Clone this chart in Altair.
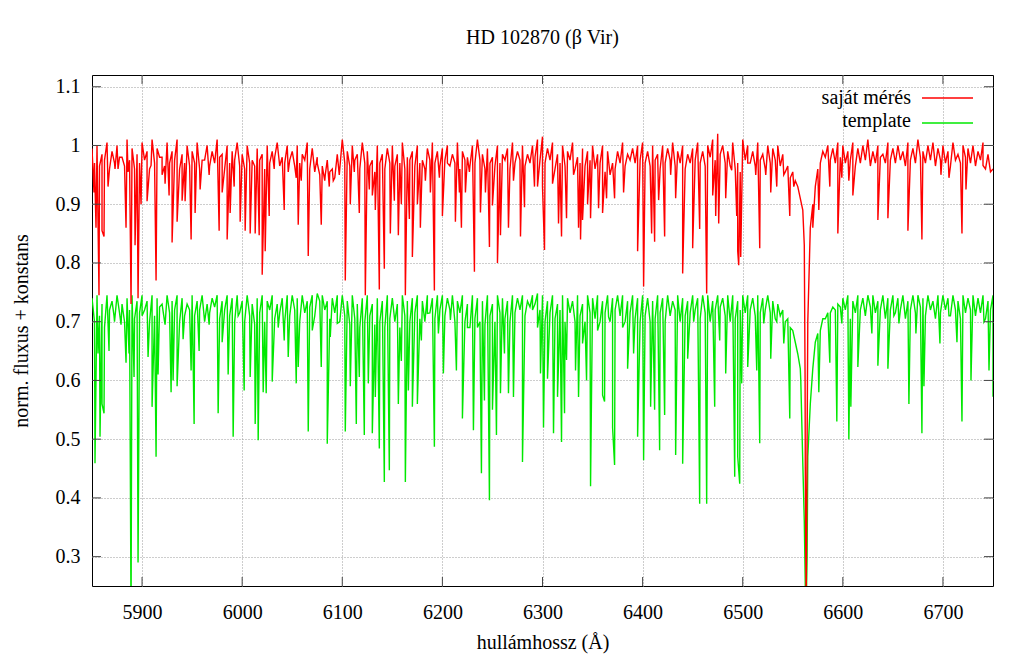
import altair as alt
import pandas as pd

# ---------------- data ----------------
# continuum knots every 5 A (5850 ... 6750)
cont_wl = list(range(5850, 6751, 5))
# weak-dip knots half way between them (5852.5 ... 6747.5)
weak_wl = [w + 2.5 for w in range(5850, 6750, 5)]

red_cont = [
    0.995, 1.0, 0.985, 1.005, 0.99, 1.0, 0.98, 1.01, 0.995, 0.985,
    1.005, 0.99, 1.01, 0.995, 0.98, 1.005, 0.99, 1.01, 0.985, 1.0,
    0.99, 1.005, 0.975, 1.0, 0.99, 1.01, 0.985, 1.0, 0.99, 1.005,
    0.985, 1.0, 0.975, 0.995, 0.985, 1.0, 0.99, 1.005, 0.98, 1.0,
    0.99, 1.0, 0.985, 1.005, 0.995, 0.98, 0.965, 0.975, 0.96, 0.985,
    1.01, 0.99, 1.0, 0.985, 1.005, 0.99, 0.975, 1.0, 0.985, 0.995,
    1.0, 0.985, 1.005, 0.98, 0.99, 1.0, 0.975, 0.995, 1.005, 0.99,
    0.995, 1.0, 0.985, 1.005, 0.99, 0.98, 1.0, 1.01, 0.985, 0.995,
    0.98, 1.0, 0.985, 0.995, 1.005, 0.99, 1.0, 0.985, 1.0, 1.01,
    1.015, 0.995, 1.005, 0.985, 1.0, 0.99, 1.005, 0.98, 0.995, 0.99,
    1.0, 0.985, 1.0, 0.99, 0.97, 0.99, 1.005, 0.985, 0.995, 1.0,
    1.005, 0.99, 1.0, 0.985, 1.0, 0.995, 1.005, 0.99, 1.0, 0.985,
    0.995, 1.005, 0.99, 1.0, 1.01, 1.02, 1.0, 0.99, 1.005, 0.97,
    1.01, 1.0, 0.99, 1.005, 0.985, 1.0, 0.995, 1.0, 0.985, 0.965,
    0.955, 0.93, 0.89, 0.7, 0.9, 0.96, 0.99, 1.0, 0.995, 1.005,
    1.0, 0.99, 1.005, 0.995, 1.0, 1.01, 0.99, 1.0, 0.985, 1.005,
    0.995, 1.0, 0.99, 1.005, 0.995, 1.01, 0.99, 1.0, 1.005, 0.995,
    1.0, 0.99, 1.005, 0.985, 1.0, 0.995, 1.0, 0.99, 1.005, 0.985,
    0.96,
]

red_weak = [
    0.97, 0.965, 0.975, 0.96, 0.97, 0.98, 0.965, 0.975, 0.96, 0.97,
    0.975, 0.96, 0.97, 0.98, 0.965, 0.97, 0.975, 0.96, 0.97, 0.965,
    0.97, 0.96, 0.975, 0.965, 0.97, 0.98, 0.96, 0.97, 0.975, 0.965,
    0.96, 0.97, 0.965, 0.975, 0.96, 0.97, 0.98, 0.965, 0.97, 0.975,
    0.965, 0.97, 0.975, 0.96, 0.955, 0.95, 0.94, 0.955, 0.945, 0.96,
    0.97, 0.965, 0.975, 0.96, 0.97, 0.965, 0.955, 0.97, 0.96, 0.97,
    0.965, 0.97, 0.96, 0.975, 0.965, 0.97, 0.96, 0.975, 0.97, 0.965,
    0.975, 0.965, 0.97, 0.96, 0.975, 0.965, 0.97, 0.975, 0.96, 0.97,
    0.965, 0.97, 0.975, 0.96, 0.97, 0.975, 0.965, 0.97, 0.98, 0.975,
    0.97, 0.975, 0.96, 0.97, 0.965, 0.975, 0.96, 0.97, 0.965, 0.975,
    0.96, 0.97, 0.955, 0.95, 0.96, 0.97, 0.965, 0.975, 0.97, 0.975,
    0.97, 0.965, 0.975, 0.96, 0.97, 0.975, 0.965, 0.97, 0.96, 0.97,
    0.975, 0.97, 0.965, 0.98, 0.975, 0.985, 0.97, 0.965, 0.96, 0.955,
    0.975, 0.97, 0.965, 0.975, 0.96, 0.97, 0.975, 0.965, 0.955, 0.945,
    0.94, 0.91, 0.45, 0.86, 0.93, 0.97, 0.98, 0.975, 0.97, 0.98,
    0.97, 0.975, 0.965, 0.97, 0.975, 0.965, 0.97, 0.98, 0.97, 0.975,
    0.97, 0.975, 0.965, 0.975, 0.97, 0.98, 0.97, 0.975, 0.965, 0.975,
    0.97, 0.965, 0.975, 0.97, 0.98, 0.97, 0.965, 0.975, 0.96, 0.955,
]

green_cont = [
    0.74, 0.745, 0.73, 0.745, 0.735, 0.745, 0.73, 0.74, 0.745, 0.735,
    0.745, 0.735, 0.745, 0.74, 0.73, 0.745, 0.735, 0.745, 0.74, 0.73,
    0.745, 0.735, 0.745, 0.73, 0.74, 0.745, 0.735, 0.745, 0.74, 0.745,
    0.735, 0.745, 0.73, 0.74, 0.745, 0.735, 0.745, 0.73, 0.74, 0.745,
    0.745, 0.74, 0.745, 0.735, 0.745, 0.748, 0.745, 0.735, 0.74, 0.745,
    0.745, 0.735, 0.745, 0.73, 0.74, 0.745, 0.73, 0.74, 0.735, 0.745,
    0.74, 0.73, 0.745, 0.735, 0.74, 0.745, 0.735, 0.745, 0.74, 0.745,
    0.745, 0.74, 0.745, 0.735, 0.745, 0.73, 0.745, 0.74, 0.735, 0.745,
    0.73, 0.745, 0.74, 0.735, 0.745, 0.74, 0.745, 0.735, 0.745, 0.748,
    0.745, 0.735, 0.745, 0.73, 0.745, 0.74, 0.735, 0.745, 0.73, 0.745,
    0.74, 0.745, 0.735, 0.745, 0.74, 0.745, 0.745, 0.735, 0.745, 0.74,
    0.745, 0.74, 0.735, 0.745, 0.74, 0.745, 0.735, 0.745, 0.74, 0.735,
    0.745, 0.74, 0.745, 0.745, 0.735, 0.745, 0.74, 0.745, 0.745, 0.735,
    0.745, 0.745, 0.74, 0.745, 0.74, 0.745, 0.735, 0.73, 0.72, 0.705,
    0.685, 0.645, 0.46, 0.47, 0.62, 0.68, 0.705, 0.715, 0.725, 0.73,
    0.74, 0.745, 0.735, 0.745, 0.74, 0.745, 0.745, 0.735, 0.745, 0.74,
    0.745, 0.74, 0.745, 0.735, 0.745, 0.745, 0.74, 0.745, 0.735, 0.745,
    0.745, 0.74, 0.745, 0.735, 0.745, 0.74, 0.745, 0.74, 0.745, 0.735,
    0.745,
]

green_weak = [
    0.70, 0.71, 0.69, 0.72, 0.70, 0.715, 0.70, 0.72, 0.705, 0.715,
    0.72, 0.70, 0.71, 0.725, 0.70, 0.715, 0.72, 0.70, 0.71, 0.72,
    0.71, 0.72, 0.70, 0.715, 0.725, 0.705, 0.72, 0.71, 0.70, 0.715,
    0.70, 0.71, 0.695, 0.715, 0.70, 0.72, 0.705, 0.715, 0.70, 0.71,
    0.72, 0.70, 0.715, 0.725, 0.71, 0.735, 0.72, 0.705, 0.715, 0.70,
    0.71, 0.695, 0.705, 0.69, 0.70, 0.71, 0.695, 0.70, 0.69, 0.705,
    0.70, 0.69, 0.71, 0.70, 0.715, 0.705, 0.70, 0.715, 0.705, 0.72,
    0.71, 0.72, 0.70, 0.715, 0.70, 0.69, 0.705, 0.70, 0.695, 0.71,
    0.70, 0.715, 0.705, 0.70, 0.715, 0.72, 0.71, 0.725, 0.73, 0.72,
    0.70, 0.715, 0.705, 0.72, 0.70, 0.715, 0.70, 0.71, 0.70, 0.715,
    0.705, 0.70, 0.715, 0.70, 0.72, 0.71, 0.70, 0.715, 0.705, 0.70,
    0.71, 0.70, 0.705, 0.715, 0.70, 0.71, 0.72, 0.70, 0.71, 0.715,
    0.72, 0.705, 0.715, 0.70, 0.72, 0.725, 0.71, 0.70, 0.705, 0.72,
    0.715, 0.72, 0.71, 0.715, 0.72, 0.715, 0.705, 0.71, 0.70, 0.69,
    0.665, 0.62, 0.25, 0.56, 0.665, 0.685, 0.705, 0.715, 0.72, 0.725,
    0.72, 0.705, 0.715, 0.72, 0.71, 0.725, 0.715, 0.72, 0.705, 0.72,
    0.715, 0.72, 0.705, 0.72, 0.715, 0.725, 0.71, 0.72, 0.705, 0.715,
    0.72, 0.71, 0.72, 0.705, 0.715, 0.72, 0.71, 0.715, 0.705, 0.72,
]

# H-alpha core points
red_core_wl = [6561.5, 6562.3, 6563.0, 6563.4, 6564.0]
red_core_flux = [0.83, 0.6, 0.3, 0.22, 0.4]
green_core_wl = [6558.0, 6561.5, 6563.5, 6564.3]
green_core_flux = [0.60, 0.36, 0.22, 0.30]

# absorption lines: (wavelength, minimum flux)
red_lines = [
    (5852, 0.92), (5854, 0.86), (5857, 0.745), (5860, 0.855), (5862, 0.845),
    (5866, 0.93), (5873, 0.96), (5876, 0.96), (5884, 0.86), (5886, 0.955),
    (5889, 0.73), (5893, 0.83), (5896, 0.74), (5899, 0.90), (5905, 0.905),
    (5909, 0.966), (5914, 0.77), (5920, 0.95), (5923, 0.935), (5927, 0.915),
    (5930, 0.835), (5935, 0.87), (5940, 0.906), (5943, 0.905), (5949, 0.84),
    (5953, 0.885), (5958, 0.925), (5967, 0.95), (5977, 0.855), (5980, 0.92),
    (5985, 0.84), (5988, 0.885), (5992, 0.93), (5998, 0.87), (6003, 0.855),
    (6008, 0.85), (6013, 0.85), (6017, 0.847), (6020, 0.78), (6023, 0.82),
    (6027, 0.88), (6032, 0.96), (6042, 0.89), (6046, 0.955), (6054, 0.945),
    (6056, 0.865), (6059, 0.94), (6066, 0.812), (6075, 0.97), (6079, 0.865),
    (6083, 0.95), (6087, 0.93), (6091, 0.94), (6097, 0.95), (6103, 0.77),
    (6108, 0.90), (6112, 0.955), (6117, 0.885), (6123, 0.745), (6127, 0.925),
    (6130, 0.915), (6133, 0.89), (6137, 0.755), (6142, 0.79), (6148, 0.85),
    (6152, 0.906), (6156, 0.847), (6159, 0.9), (6163, 0.745), (6167, 0.875),
    (6170, 0.81), (6175, 0.90), (6178, 0.86), (6183, 0.94), (6188, 0.92),
    (6192, 0.753), (6197, 0.945), (6200, 0.88), (6205, 0.97), (6213, 0.87),
    (6217, 0.92), (6219, 0.86), (6223, 0.92), (6227, 0.955), (6232, 0.785),
    (6238, 0.886), (6243, 0.92), (6247, 0.827), (6250, 0.898), (6255, 0.80),
    (6258, 0.847), (6266, 0.86), (6271, 0.94), (6278, 0.845), (6282, 0.895),
    (6292, 0.93), (6295, 0.93), (6300, 0.93), (6302, 0.822), (6310, 0.935),
    (6316, 0.867), (6319, 0.845), (6324, 0.876), (6331, 0.95), (6336, 0.86),
    (6338, 0.84), (6340, 0.873), (6345, 0.90), (6348, 0.876), (6356, 0.893),
    (6360, 0.885), (6364, 0.91), (6372, 0.91), (6381, 0.92), (6395, 0.82),
    (6401, 0.76), (6409, 0.85), (6412, 0.836), (6416, 0.907), (6422, 0.845),
    (6428, 0.95), (6433, 0.91), (6440, 0.782), (6450, 0.825), (6457, 0.858),
    (6464, 0.748), (6470, 0.915), (6473, 0.88), (6476, 0.867), (6483, 0.91),
    (6489, 0.958), (6494, 0.88), (6495, 0.82), (6496, 0.796), (6498, 0.81),
    (6505, 0.97), (6513, 0.95), (6517, 0.825), (6523, 0.95), (6528, 0.92),
    (6534, 0.93), (6541, 0.95), (6547, 0.88), (6551, 0.93), (6570, 0.86),
    (6576, 0.89), (6587, 0.93), (6595, 0.85), (6599, 0.945), (6606, 0.94),
    (6610, 0.915), (6635, 0.873), (6645, 0.876), (6665, 0.855), (6679, 0.84),
    (6698, 0.95), (6706, 0.945), (6719, 0.85), (6723, 0.925), (6733, 0.97),
    (6740, 0.966),
]

green_lines = [
    (5853, 0.459), (5856, 0.646), (5858, 0.504), (5860, 0.56), (5862, 0.544),
    (5867, 0.65), (5872, 0.71), (5879, 0.695), (5884, 0.63), (5887, 0.646),
    (5889, 0.20), (5892, 0.606), (5896, 0.29), (5900, 0.71), (5906, 0.64),
    (5910, 0.555), (5914, 0.47), (5916, 0.61), (5923, 0.695), (5929, 0.58),
    (5931, 0.60), (5935, 0.59), (5941, 0.67), (5949, 0.617), (5952, 0.526),
    (5957, 0.65), (5967, 0.695), (5976, 0.544), (5980, 0.665), (5986, 0.61),
    (5991, 0.504), (5996, 0.71), (6002, 0.583), (6008, 0.606), (6013, 0.526),
    (6016, 0.498), (6021, 0.58), (6024, 0.578), (6030, 0.598), (6036, 0.69),
    (6042, 0.668), (6046, 0.64), (6054, 0.595), (6056, 0.623), (6066, 0.513),
    (6070, 0.685), (6079, 0.623), (6085, 0.492), (6088, 0.674), (6095, 0.697),
    (6103, 0.513), (6108, 0.59), (6114, 0.526), (6117, 0.606), (6122, 0.507),
    (6126, 0.595), (6130, 0.51), (6133, 0.572), (6137, 0.484), (6142, 0.427),
    (6147, 0.447), (6156, 0.56), (6159, 0.633), (6163, 0.427), (6166, 0.583),
    (6170, 0.555), (6175, 0.56), (6179, 0.668), (6185, 0.714), (6192, 0.487),
    (6196, 0.68), (6201, 0.612), (6208, 0.703), (6214, 0.617), (6220, 0.535),
    (6225, 0.69), (6231, 0.515), (6235, 0.69), (6239, 0.442), (6242, 0.566),
    (6247, 0.396), (6250, 0.55), (6254, 0.507), (6258, 0.578), (6262, 0.646),
    (6266, 0.578), (6271, 0.572), (6280, 0.461), (6290, 0.72), (6295, 0.69),
    (6298, 0.612), (6301, 0.52), (6305, 0.603), (6311, 0.51), (6315, 0.572),
    (6319, 0.495), (6322, 0.544), (6324, 0.635), (6333, 0.617), (6336, 0.572),
    (6340, 0.663), (6344, 0.60), (6348, 0.42), (6355, 0.685), (6360, 0.575),
    (6362, 0.564), (6366, 0.708), (6370, 0.52), (6372, 0.456), (6380, 0.69),
    (6385, 0.62), (6391, 0.646), (6395, 0.504), (6401, 0.464), (6408, 0.555),
    (6412, 0.55), (6417, 0.481), (6422, 0.541), (6433, 0.473), (6440, 0.458),
    (6445, 0.637), (6451, 0.70), (6457, 0.39), (6464, 0.39), (6472, 0.555),
    (6477, 0.668), (6483, 0.612), (6492, 0.436), (6495, 0.47), (6497, 0.424),
    (6499, 0.595), (6505, 0.623), (6514, 0.617), (6517, 0.493), (6521, 0.697),
    (6528, 0.637), (6534, 0.70), (6541, 0.663), (6547, 0.535), (6576, 0.58),
    (6587, 0.63), (6594, 0.53), (6599, 0.697), (6606, 0.5), (6608, 0.555),
    (6615, 0.623), (6629, 0.68), (6635, 0.625), (6645, 0.62), (6651, 0.71),
    (6656, 0.697), (6666, 0.56), (6673, 0.68), (6679, 0.51), (6681, 0.59),
    (6697, 0.663), (6706, 0.71), (6714, 0.665), (6719, 0.53), (6728, 0.60),
    (6741, 0.70), (6746, 0.617), (6750, 0.572),
]

x_ticks = [5900, 6000, 6100, 6200, 6300, 6400, 6500, 6600, 6700]
y_ticks = [0.3, 0.4, 0.5, 0.6, 0.7, 0.8, 0.9, 1.0, 1.1]

series_names = ["saját mérés", "template"]
colors = ["#ff0000", "#00e800"]

# ---------------- build tables ----------------
def spectrum(name, cont, weak, core_wl, core_flux, lines):
    wl = list(cont_wl) + list(weak_wl) + list(core_wl) + [w for w, _ in lines]
    fl = list(cont) + list(weak) + list(core_flux) + [m for _, m in lines]
    df = pd.DataFrame({"wl": wl, "flux": fl})
    df["series"] = name
    return df.sort_values("wl", kind="stable").reset_index(drop=True)

red_df = spectrum(series_names[0], red_cont, red_weak, red_core_wl, red_core_flux, red_lines)
green_df = spectrum(series_names[1], green_cont, green_weak, green_core_wl, green_core_flux, green_lines)

W, H = 901, 511
FONT = "Liberation Serif"
FS = 20

xsc = alt.Scale(domain=[5850, 6750], nice=False, zero=False)
ysc = alt.Scale(domain=[0.25, 1.12], nice=False, zero=False)

xax = alt.Axis(values=x_ticks, title="hullámhossz (Å)", format="d",
               labelPadding=16, titlePadding=10)
yax = alt.Axis(values=y_ticks, title="norm. fluxus + konstans", format="~g",
               labelPadding=12, titlePadding=24)

green_line = alt.Chart(green_df).mark_line(color=colors[1], strokeWidth=1.4, clip=True).encode(
    x=alt.X("wl:Q", scale=xsc, axis=xax),
    y=alt.Y("flux:Q", scale=ysc, axis=yax),
    order="wl:Q",
)
red_line = alt.Chart(red_df).mark_line(color=colors[0], strokeWidth=1.4, clip=True).encode(
    x=alt.X("wl:Q", scale=xsc),
    y=alt.Y("flux:Q", scale=ysc),
    order="wl:Q",
)

# inward tick marks on all four sides
xt = pd.DataFrame({"wl": x_ticks})
yt = pd.DataFrame({"flux": y_ticks})
TL = 9
tick_color = "#444444"
t_top = alt.Chart(xt).mark_rule(color=tick_color).encode(
    x=alt.X("wl:Q", scale=xsc), y=alt.value(0), y2=alt.value(TL))
t_bot = alt.Chart(xt).mark_rule(color=tick_color).encode(
    x=alt.X("wl:Q", scale=xsc), y=alt.value(H - TL), y2=alt.value(H))
t_left = alt.Chart(yt).mark_rule(color=tick_color).encode(
    y=alt.Y("flux:Q", scale=ysc), x=alt.value(0), x2=alt.value(TL))
t_right = alt.Chart(yt).mark_rule(color=tick_color).encode(
    y=alt.Y("flux:Q", scale=ysc), x=alt.value(W - TL), x2=alt.value(W))

# key (top right: text, then line sample)
key_layers = []
for i, (name, col) in enumerate(zip(series_names, colors)):
    key_layers.append(
        alt.Chart(pd.DataFrame({"t": [name]})).mark_text(
            align="right", baseline="alphabetic", font=FONT, fontSize=FS, color="black"
        ).encode(x=alt.value(819), y=alt.value(29 + 23 * i), text="t:N")
    )
    key_layers.append(
        alt.Chart(pd.DataFrame({"t": [name]})).mark_rule(color=col, strokeWidth=1.4).encode(
            x=alt.value(830), x2=alt.value(881), y=alt.value(23 + 25 * i)
        )
    )

chart = alt.layer(
    green_line, red_line, t_top, t_bot, t_left, t_right, *key_layers
).properties(
    width=W,
    height=H,
    title=alt.TitleParams("HD 102870 (β Vir)", font=FONT, fontSize=FS,
                          fontWeight="normal", color="black", offset=27),
    autosize=alt.AutoSizeParams(type="none"),
    padding={"left": 84, "top": 67, "right": 20, "bottom": 74},
).configure_view(
    stroke="black", strokeWidth=1
).configure_axis(
    labelFont=FONT, labelFontSize=FS, labelColor="black",
    titleFont=FONT, titleFontSize=FS, titleFontWeight="normal", titleColor="black",
    ticks=False, domain=False,
    grid=True, gridColor="#9a9a9a", gridDash=[1, 2], gridWidth=1, gridOpacity=1,
)

chart.save("out.html", embed_options={"renderer": "svg", "actions": False})
